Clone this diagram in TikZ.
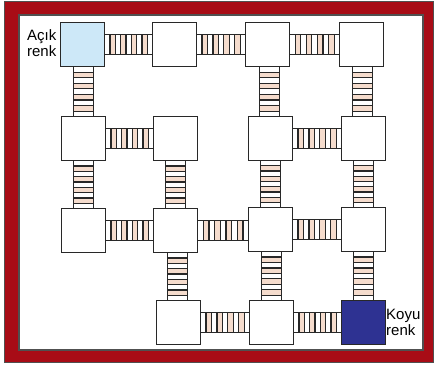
\documentclass[tikz,border=0pt]{standalone}
\usepackage{fontspec}
\setmainfont{Liberation Sans}
\usetikzlibrary{calc}
\definecolor{framered}{RGB}{168,12,22}
\definecolor{framegray}{RGB}{80,80,80}
\definecolor{lightbluec}{RGB}{205,232,248}
\definecolor{darkbluec}{RGB}{46,50,146}
\definecolor{rungpink}{RGB}{245,220,205}
\definecolor{linec}{RGB}{40,40,40}
\pgfdeclarelayer{bg}
\pgfdeclarelayer{lad}
\pgfsetlayers{bg,lad,main}
\tikzset{
  room/.style={draw=linec, line width=1.3pt, fill=white, minimum width=44pt, minimum height=44pt, inner sep=0pt, anchor=north west},
  rail/.style={draw=linec, line width=1.3pt},
  rung/.style={draw=linec, line width=1.2pt},
  lbl/.style={font=\fontsize{15}{16}\selectfont, inner sep=0pt, text=black}
}
% horizontal ladder between #1 (left) and #2 (right)
\newcommand\hlad[2]{%
  \begin{pgfonlayer}{lad}
  \coordinate (lm) at ($(#1.east)!0.5!(#2.west)$);
  \coordinate (la) at (#1.east |- lm);
  \coordinate (lb) at (#2.west |- lm);
  \foreach \k in {0,2,4,6}{%
    \pgfmathsetmacro\ta{0.1+\k*0.8/7}%
    \pgfmathsetmacro\tb{0.1+(\k+1)*0.8/7}%
    \fill[rungpink] ($(la)!\ta!(lb)+(0,-10)$) rectangle ($(la)!\tb!(lb)+(0,10)$);
  }
  \foreach \k in {0,...,7}{%
    \pgfmathsetmacro\ta{0.1+\k*0.8/7}%
    \draw[rung] ($(la)!\ta!(lb)+(0,-10)$) -- ($(la)!\ta!(lb)+(0,10)$);
  }
  \draw[rail] ($(la)+(0,-10)$) -- ($(lb)+(0,-10)$);
  \draw[rail] ($(la)+(0,10)$) -- ($(lb)+(0,10)$);
  \end{pgfonlayer}}
% vertical ladder between #1 (top) and #2 (bottom)
\newcommand\vlad[2]{%
  \begin{pgfonlayer}{lad}
  \coordinate (lm) at ($(#1.south)!0.5!(#2.north)$);
  \coordinate (la) at (lm |- #1.south);
  \coordinate (lb) at (lm |- #2.north);
  \foreach \k in {0,2,4,6}{%
    \pgfmathsetmacro\ta{0.1+\k*0.8/7}%
    \pgfmathsetmacro\tb{0.1+(\k+1)*0.8/7}%
    \fill[rungpink] ($(la)!\ta!(lb)+(-10,0)$) rectangle ($(la)!\tb!(lb)+(10,0)$);
  }
  \foreach \k in {0,...,7}{%
    \pgfmathsetmacro\ta{0.1+\k*0.8/7}%
    \draw[rung] ($(la)!\ta!(lb)+(-10,0)$) -- ($(la)!\ta!(lb)+(10,0)$);
  }
  \draw[rail] ($(la)+(-10,0)$) -- ($(lb)+(-10,0)$);
  \draw[rail] ($(la)+(10,0)$) -- ($(lb)+(10,0)$);
  \end{pgfonlayer}}
\begin{document}
\begin{tikzpicture}[x=1pt,y=-1pt]
\useasboundingbox (0,0) rectangle (435,367);
\begin{pgfonlayer}{bg}
\filldraw[fill=framered, draw=framegray, line width=1pt] (4,1.5) rectangle (433,362.5);
\filldraw[fill=white, draw=framegray, line width=1.4pt] (19,15) rectangle (423,350);
\end{pgfonlayer}
% rooms
\node[room, fill=lightbluec] (r11) at (60,22) {};
\node[room] (r12) at (152,22) {};
\node[room] (r13) at (245,22) {};
\node[room] (r14) at (339,22) {};
\node[room] (r21) at (61,116) {};
\node[room] (r22) at (153,116) {};
\node[room] (r23) at (248,116) {};
\node[room] (r24) at (341,116) {};
\node[room] (r31) at (61,208) {};
\node[room] (r32) at (153,208) {};
\node[room] (r33) at (248,207) {};
\node[room] (r34) at (341,207) {};
\node[room] (r42) at (156,300) {};
\node[room] (r43) at (249,300) {};
\node[room, fill=darkbluec] (r44) at (341,300) {};
% horizontal ladders
\hlad{r11}{r12}
\hlad{r12}{r13}
\hlad{r13}{r14}
\hlad{r21}{r22}
\hlad{r23}{r24}
\hlad{r31}{r32}
\hlad{r32}{r33}
\hlad{r33}{r34}
\hlad{r42}{r43}
\hlad{r43}{r44}
% vertical ladders
\vlad{r11}{r21}
\vlad{r21}{r31}
\vlad{r22}{r32}
\vlad{r32}{r42}
\vlad{r13}{r23}
\vlad{r23}{r33}
\vlad{r33}{r43}
\vlad{r14}{r24}
\vlad{r24}{r34}
\vlad{r34}{r44}
% labels
\node[lbl, align=right, anchor=north east] (acik) at (56.5,29) {Açık\\renk};
\node[lbl, align=left, anchor=north west] (koyu) at (386,309) {Koyu\\renk};
\end{tikzpicture}
\end{document}
